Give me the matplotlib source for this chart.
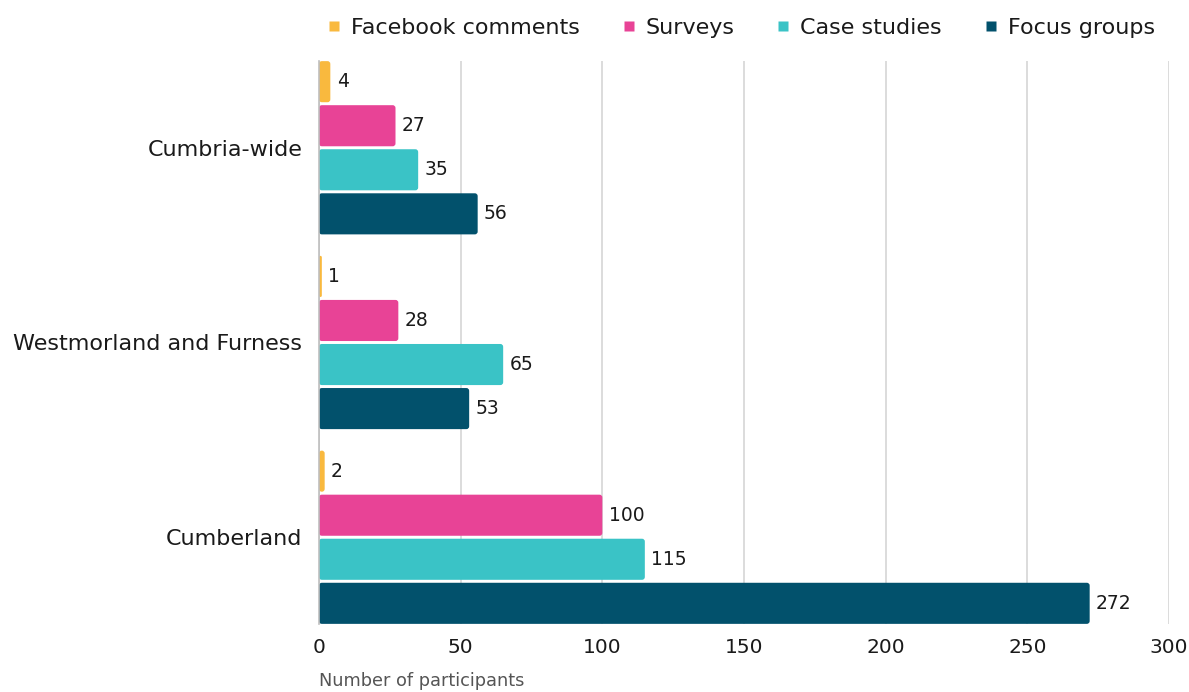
import matplotlib
matplotlib.use("Agg")
import matplotlib.pyplot as plt
from matplotlib.patches import FancyBboxPatch
from matplotlib.lines import Line2D
import numpy as np

categories = ["Cumbria-wide", "Westmorland and Furness", "Cumberland"]
series_names = ["Facebook comments", "Surveys", "Case studies", "Focus groups"]
facebook_comments = [4, 1, 2]
surveys = [27, 28, 100]
case_studies = [35, 65, 115]
focus_groups = [56, 53, 272]
x_ticks = [0, 50, 100, 150, 200, 250, 300]

series_values = [facebook_comments, surveys, case_studies, focus_groups]
colors = ["#F9B93E", "#E84396", "#3AC3C6", "#02516C"]

plt.rcParams['font.family'] = ['DejaVu Sans']

fig = plt.figure(figsize=(11.89, 6.92), dpi=100)
ax = fig.add_axes([319/1189, 1 - 624/692, (1169-319)/1189, (624-61)/692])

slot = 0.2262
bar_h = 0.211
y_base = np.arange(len(categories))
for i, (vals, col) in enumerate(zip(series_values, colors)):
    ys = y_base + (i - 1.5) * slot
    bars = ax.barh(ys, vals, height=bar_h, color=col, zorder=3)
    for b, v in zip(bars, vals):
        b.set_visible(False)
        x0, y0 = b.get_x(), b.get_y()
        w, h = b.get_width(), b.get_height()
        r = min(1.0, w / 2)
        patch = FancyBboxPatch((x0, y0), w, h,
                               boxstyle=f"round,pad=0,rounding_size={r}",
                               mutation_aspect=0.0145,
                               facecolor=col, edgecolor="none", zorder=3)
        ax.add_patch(patch)
        ax.annotate(str(v), (v, b.get_y() + h / 2), xytext=(4.5, 0),
                    textcoords="offset points", va="center", ha="left",
                    fontsize=13.5, color="#1a1a1a")

ax.set_xlim(0, 300)
ax.set_ylim(2 + 0.4455, -0.4455)
ax.set_xticks(x_ticks)
ax.set_xticklabels([str(t) for t in x_ticks])
ax.set_yticks(y_base)
ax.set_yticklabels(categories)
ax.tick_params(axis='both', length=0, colors="#1a1a1a")
ax.tick_params(axis='x', labelsize=14.5, pad=10)
ax.tick_params(axis='y', labelsize=16, pad=12)
ax.grid(axis='x', color="#D9D9D9", linewidth=1.3, zorder=0)
for s in ["top", "right", "bottom"]:
    ax.spines[s].set_visible(False)
ax.spines["left"].set_color("#BFBFBF")
ax.spines["left"].set_linewidth(1.2)
ax.spines["left"].set_zorder(4)

ax.set_xlabel("Number of participants", fontsize=12.8, color="#555555",
              loc="left", labelpad=11)

handles = [Line2D([0], [0], marker='s', linestyle='none', markersize=7.5,
                  markerfacecolor=c, markeredgecolor='none') for c in colors]
fig.legend(handles, series_names, loc="center", ncol=4,
           bbox_to_anchor=(740/1189, 1 - 28/692), frameon=False,
           fontsize=16, handlelength=0.8, handletextpad=0.36,
           columnspacing=1.8, labelcolor="#1a1a1a")

fig.savefig("out.png", dpi=100, facecolor="white")
